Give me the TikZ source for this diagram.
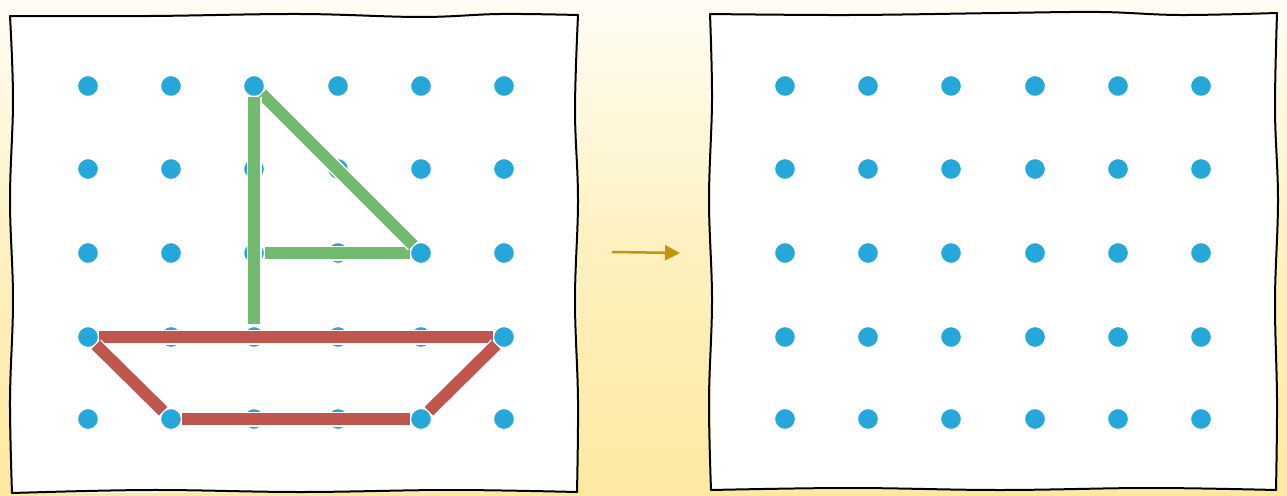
\documentclass[tikz,border=0pt]{standalone}
\usetikzlibrary{arrows.meta}
\definecolor{dotblue}{HTML}{25A7DA}
\definecolor{sailgreen}{HTML}{72BA6E}
\definecolor{hullred}{HTML}{C0574E}
\definecolor{arrowgold}{HTML}{C4940A}
\definecolor{bgyellow}{HTML}{FDE9A0}
\definecolor{bgmid}{HTML}{FEF1C0}
\definecolor{bglight}{HTML}{FFFDF4}
\tikzset{
  peg/.style={circle, fill=dotblue, draw=white, line width=1.2pt, minimum size=21pt, inner sep=0pt},
  band/.style={line width=12pt, line cap=butt, preaction={draw=white, line width=15pt}},
  boxedge/.style={black, line width=2pt, line join=round, line cap=round},
}
\begin{document}
\begin{tikzpicture}[x=1pt,y=-1pt]
\useasboundingbox (0,0) rectangle (1287,495);
% background
\shade[top color=bglight, bottom color=bgyellow, middle color=bgmid] (0,0) rectangle (1287,495);
% left board
\fill[white] (10,16) -- (578,15) -- (577,492) -- (12,493) -- cycle;
\draw[boxedge] plot[smooth, tension=0.6] coordinates {(10,16) (150,16) (300,14) (420,17) (500,14) (578,15)};
\draw[boxedge] plot[smooth, tension=0.6] coordinates {(578,15) (575,110) (578,200) (575,300) (578,400) (577,492)};
\draw[boxedge] plot[smooth, tension=0.6] coordinates {(577,492) (450,490) (300,492) (150,490) (12,493)};
\draw[boxedge] plot[smooth, tension=0.6] coordinates {(12,493) (10,400) (13,300) (10,200) (13,100) (10,16)};
% right board
\fill[white] (710,14) -- (1277,13) -- (1276,490) -- (711,490) -- cycle;
\draw[boxedge] plot[smooth, tension=0.6] coordinates {(710,14) (850,15) (1000,13) (1100,12) (1180,15) (1277,13)};
\draw[boxedge] plot[smooth, tension=0.6] coordinates {(1277,13) (1275,110) (1278,200) (1275,300) (1277,400) (1276,490)};
\draw[boxedge] plot[smooth, tension=0.6] coordinates {(1276,490) (1150,488) (1000,490) (850,488) (711,490)};
\draw[boxedge] plot[smooth, tension=0.6] coordinates {(711,490) (709,400) (712,300) (709,200) (712,100) (710,14)};
% pegs
\foreach \x [count=\c] in {88,171,254,338,421,504}
  \foreach \y [count=\r] in {86,169,253,337,419}
    \node[peg] (l\c\r) at (\x,\y) {};
\foreach \x [count=\c] in {785,868,951,1035,1118,1201}
  \foreach \y [count=\r] in {86,169,253,337,419}
    \node[peg] (r\c\r) at (\x,\y) {};
% sail
\draw[band, sailgreen] (l33) -- (l53);
\draw[band, sailgreen] (l31) -- (l53);
\draw[band, sailgreen, shorten >=2pt] (l31) -- (l34);
% hull
\draw[band, hullred] (l14) -- (l64);
\draw[band, hullred] (l14) -- (l25);
\draw[band, hullred] (l25) -- (l55);
\draw[band, hullred] (l55) -- (l64);
% arrow
\coordinate (arrS) at (612,252);
\coordinate (arrE) at (680,253);
\draw[arrowgold, line width=2.5pt, -{Triangle[length=15pt,width=15pt]}] (arrS) -- (arrE);
\end{tikzpicture}
\end{document}
